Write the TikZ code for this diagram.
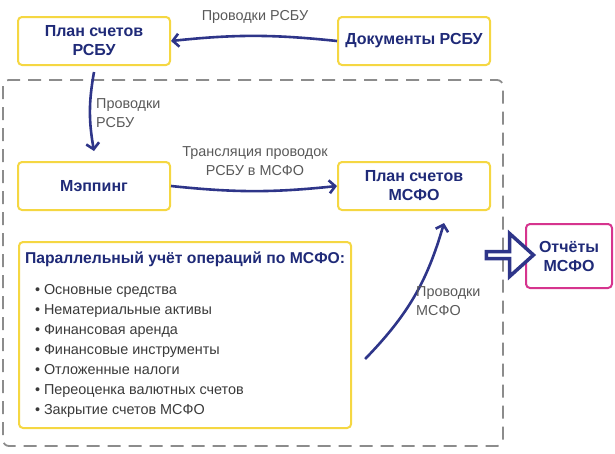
\documentclass[tikz,border=0pt]{standalone}
\usepackage{fontspec}
\setmainfont{Liberation Sans}
\usetikzlibrary{
  arrows.meta,
  positioning,
  shapes.arrows
}
\definecolor{navyline}{HTML}{2E3589}
\definecolor{navytext}{HTML}{1F2A78}
\definecolor{boxyellow}{HTML}{F5D742}
\definecolor{reportpink}{HTML}{D6348E}
\definecolor{framegray}{HTML}{8C8C8C}
\definecolor{labelgray}{HTML}{595959}
\definecolor{itemgray}{HTML}{3A3A3A}

\begin{document}
\begin{tikzpicture}[
  x=1pt, y=-1pt,
  box/.style={
    rectangle,
    draw=boxyellow,
    fill=white,
    line width=2pt,
    rounded corners=4pt,
    minimum width=152pt,
    minimum height=48pt,
    font=\fontsize{16}{19}\selectfont\bfseries,
    text=navytext,
    align=center,
  },
  listbox/.style={
    box,
    minimum width=332pt,
    minimum height=186pt,
    align=left,
    inner sep=6pt,
    font=\fontsize{14.4}{20}\selectfont,
    text=itemgray,
  },
  reportbox/.style={
    box,
    draw=reportpink,
    minimum width=86pt,
    minimum height=64pt,
    font=\fontsize{16}{19}\selectfont\bfseries,
  },
  flow/.style={-{Straight Barb[length=6pt,width=13pt]}, line width=2.6pt, navyline},
  flowlabel/.style={
    font=\fontsize{14.4}{19.5}\selectfont,
    text=labelgray,
    inner sep=0pt,
  },
  bigarrow/.style={
    single arrow,
    draw=navyline,
    fill=white,
    line width=3.5pt,
    minimum height=47pt,
    minimum width=43pt,
    single arrow head extend=9pt,
    single arrow tip angle=84,
    inner sep=0pt,
  },
]
\useasboundingbox (0,0) rectangle (615,453);

% ── Dashed frame ──
\draw[framegray, line width=1.8pt, dash pattern=on 13pt off 8pt, rounded corners=6pt]
  (3,80) rectangle (503,446);

% ── RSBU side ──
\node[box] (planrsbu) at (94,41) {План счетов\\РСБУ};
\node[box] (docsrsbu) at (414,41) {Документы РСБУ};

% ── Inside the frame ──
\node[box] (mapping) at (94,186) {Мэппинг};
\node[box] (planifrs) at (414,186) {План счетов\\МСФО};

\node[listbox, anchor=north west] (parallel) at (18,241) {%
  {\bfseries\fontsize{15.7}{20}\selectfont\color{navytext}Параллельный учёт операций по МСФО:}\\[11pt]
  \hspace{10pt}\textbullet\ Основные средства\\
  \hspace{10pt}\textbullet\ Нематериальные активы\\
  \hspace{10pt}\textbullet\ Финансовая аренда\\
  \hspace{10pt}\textbullet\ Финансовые инструменты\\
  \hspace{10pt}\textbullet\ Отложенные налоги\\
  \hspace{10pt}\textbullet\ Переоценка валютных счетов\\
  \hspace{10pt}\textbullet\ Закрытие счетов МСФО%
};

% ── Reports ──
\node[reportbox] (reports) at (569,256) {Отчёты\\МСФО};
\node[bigarrow] (toreports) at (508,255) {};

% ── Connectors ──
\draw[flow] (docsrsbu.west) to[bend right=6] (planrsbu.east);
\draw[flow] ([yshift=-6pt]planrsbu.south) to[bend right=10] ([yshift=10pt]mapping.north);
\draw[flow] (mapping.east) to[bend right=6] (planifrs.west);
\draw[flow] ([xshift=13pt,yshift=-24pt]parallel.east) to[bend right=14] ([xshift=30pt,yshift=-12pt]planifrs.south);

% ── Connector labels ──
\node[flowlabel] (lbltop) at (255,17) {Проводки РСБУ};
\node[flowlabel, anchor=west, align=left] (lbldown) at (96,113) {Проводки\\РСБУ};
\node[flowlabel, align=center] (lbltrans) at (255,161) {Трансляция проводок\\РСБУ в МСФО};
\node[flowlabel, anchor=west, align=left] (lblup) at (416,301) {Проводки\\МСФО};

\end{tikzpicture}
\end{document}
